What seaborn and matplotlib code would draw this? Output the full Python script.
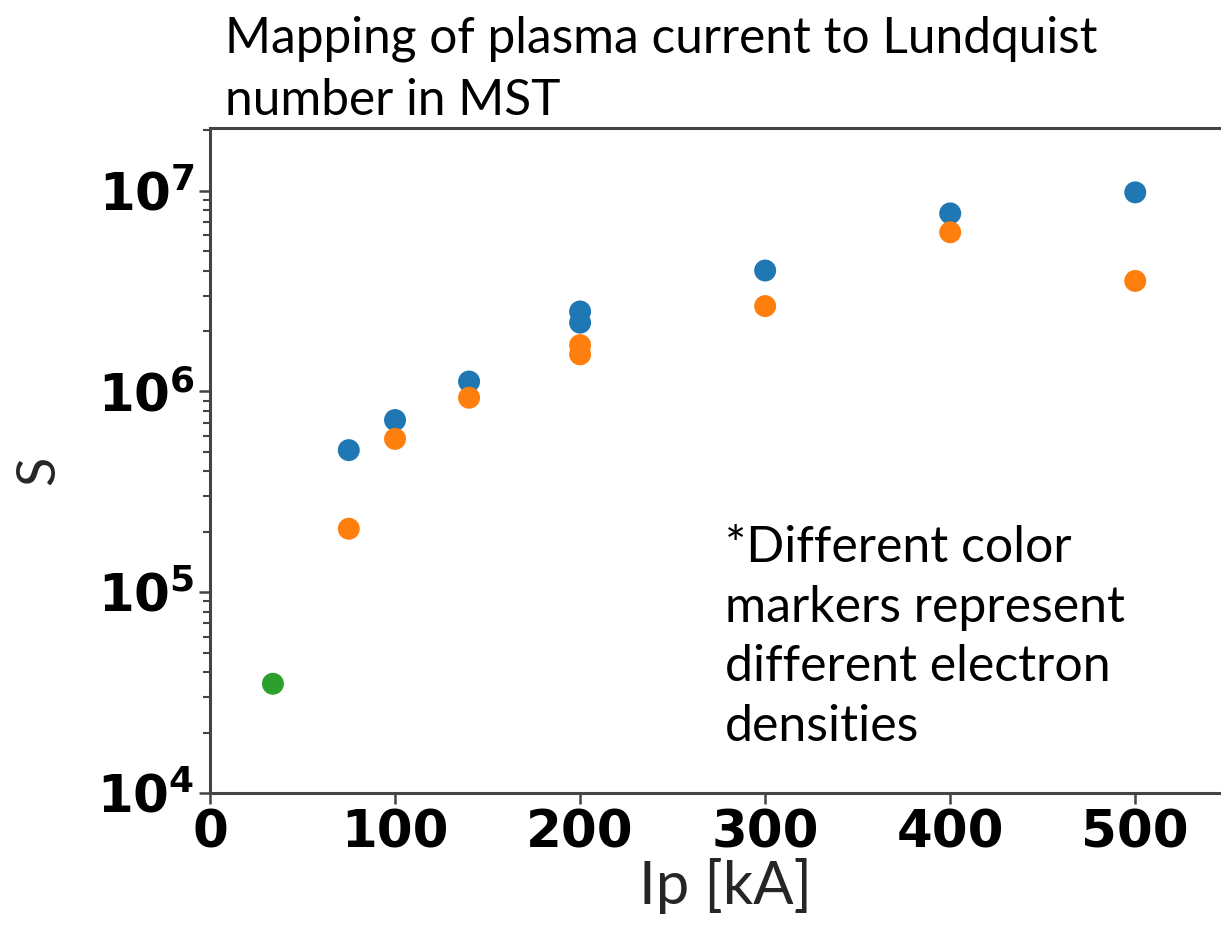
import matplotlib
matplotlib.use("Agg")
import matplotlib.pyplot as plt
import seaborn as sns
import pandas as pd
from matplotlib.ticker import LogLocator, NullFormatter

# Data
blue_ip = [75, 100, 140, 200, 200, 300, 400, 500]
blue_s = [5.1e5, 7.2e5, 1.12e6, 2.5e6, 2.2e6, 4.0e6, 7.7e6, 9.8e6]
orange_ip = [75, 100, 140, 200, 200, 300, 400, 500]
orange_s = [2.07e5, 5.8e5, 9.3e5, 1.7e6, 1.53e6, 2.66e6, 6.2e6, 3.55e6]
green_ip = [34]
green_s = [3.5e4]

df = pd.DataFrame({
    "Ip": blue_ip + orange_ip + green_ip,
    "S": blue_s + orange_s + green_s,
    "density": ["d1"] * len(blue_ip) + ["d2"] * len(orange_ip) + ["d3"] * len(green_ip),
})

sns.set_style("ticks")
fig = plt.figure(figsize=(12.21, 9.38), dpi=100)
ax = fig.add_axes([210 / 1221, 1 - 793 / 938, 1 - 210 / 1221 + 0.001, (793 - 128) / 938])

sns.scatterplot(data=df, x="Ip", y="S", hue="density",
                palette=["#1f77b4", "#ff7f0e", "#2ca02c"],
                s=250, linewidth=0, legend=False, ax=ax)

ax.set_yscale("log")
ax.set_ylim(1e4, 2.05e7)
ax.set_xlim(0, 547)
ax.set_xticks([0, 100, 200, 300, 400, 500])
ax.yaxis.set_major_locator(LogLocator(base=10, numticks=10))
ax.yaxis.set_minor_locator(LogLocator(base=10, subs=range(2, 10), numticks=10))
ax.yaxis.set_minor_formatter(NullFormatter())

for side in ["left", "bottom", "top"]:
    ax.spines[side].set_visible(True)
    ax.spines[side].set_color("#444444")
    ax.spines[side].set_linewidth(2.2)
ax.spines["right"].set_visible(False)

ax.tick_params(axis="both", which="major", length=8, width=1.8, color="#444444",
               labelcolor="black")
ax.tick_params(axis="y", which="minor", length=5, width=1.5, color="#444444")
ax.tick_params(axis="x", which="major", pad=3)
ax.tick_params(axis="y", which="major", pad=3)
for lab in ax.get_xticklabels():
    lab.set_fontsize(37)
    lab.set_fontweight("bold")
    lab.set_family("DejaVu Sans")
for lab in ax.get_yticklabels():
    lab.set_fontsize(37)
    lab.set_fontweight("bold")
    lab.set_family("DejaVu Sans")

ax.set_xlabel("Ip [kA]", fontsize=43, family="Lato", color="#262626", va="center")
ax.xaxis.set_label_coords((725 - 210) / 1011, (793 - 886) / 665)
ax.set_ylabel("S", fontsize=39, family="Lato", color="#262626", va="center")
ax.yaxis.set_label_coords((39 - 210) / 1011, (793 - 470) / 665)

fig.text(225 / 1221, 1 - 15 / 938,
         "Mapping of plasma current to Lundquist\nnumber in MST",
         fontsize=35.7, family="Lato", color="black", va="top", ha="left",
         linespacing=1.45)

fig.text(725 / 1221, 1 - 525 / 938,
         "*Different color\nmarkers represent\ndifferent electron\ndensities",
         fontsize=36, family="Lato", color="black", va="top", ha="left",
         linespacing=1.37)

fig.savefig("out.png", dpi=100)
